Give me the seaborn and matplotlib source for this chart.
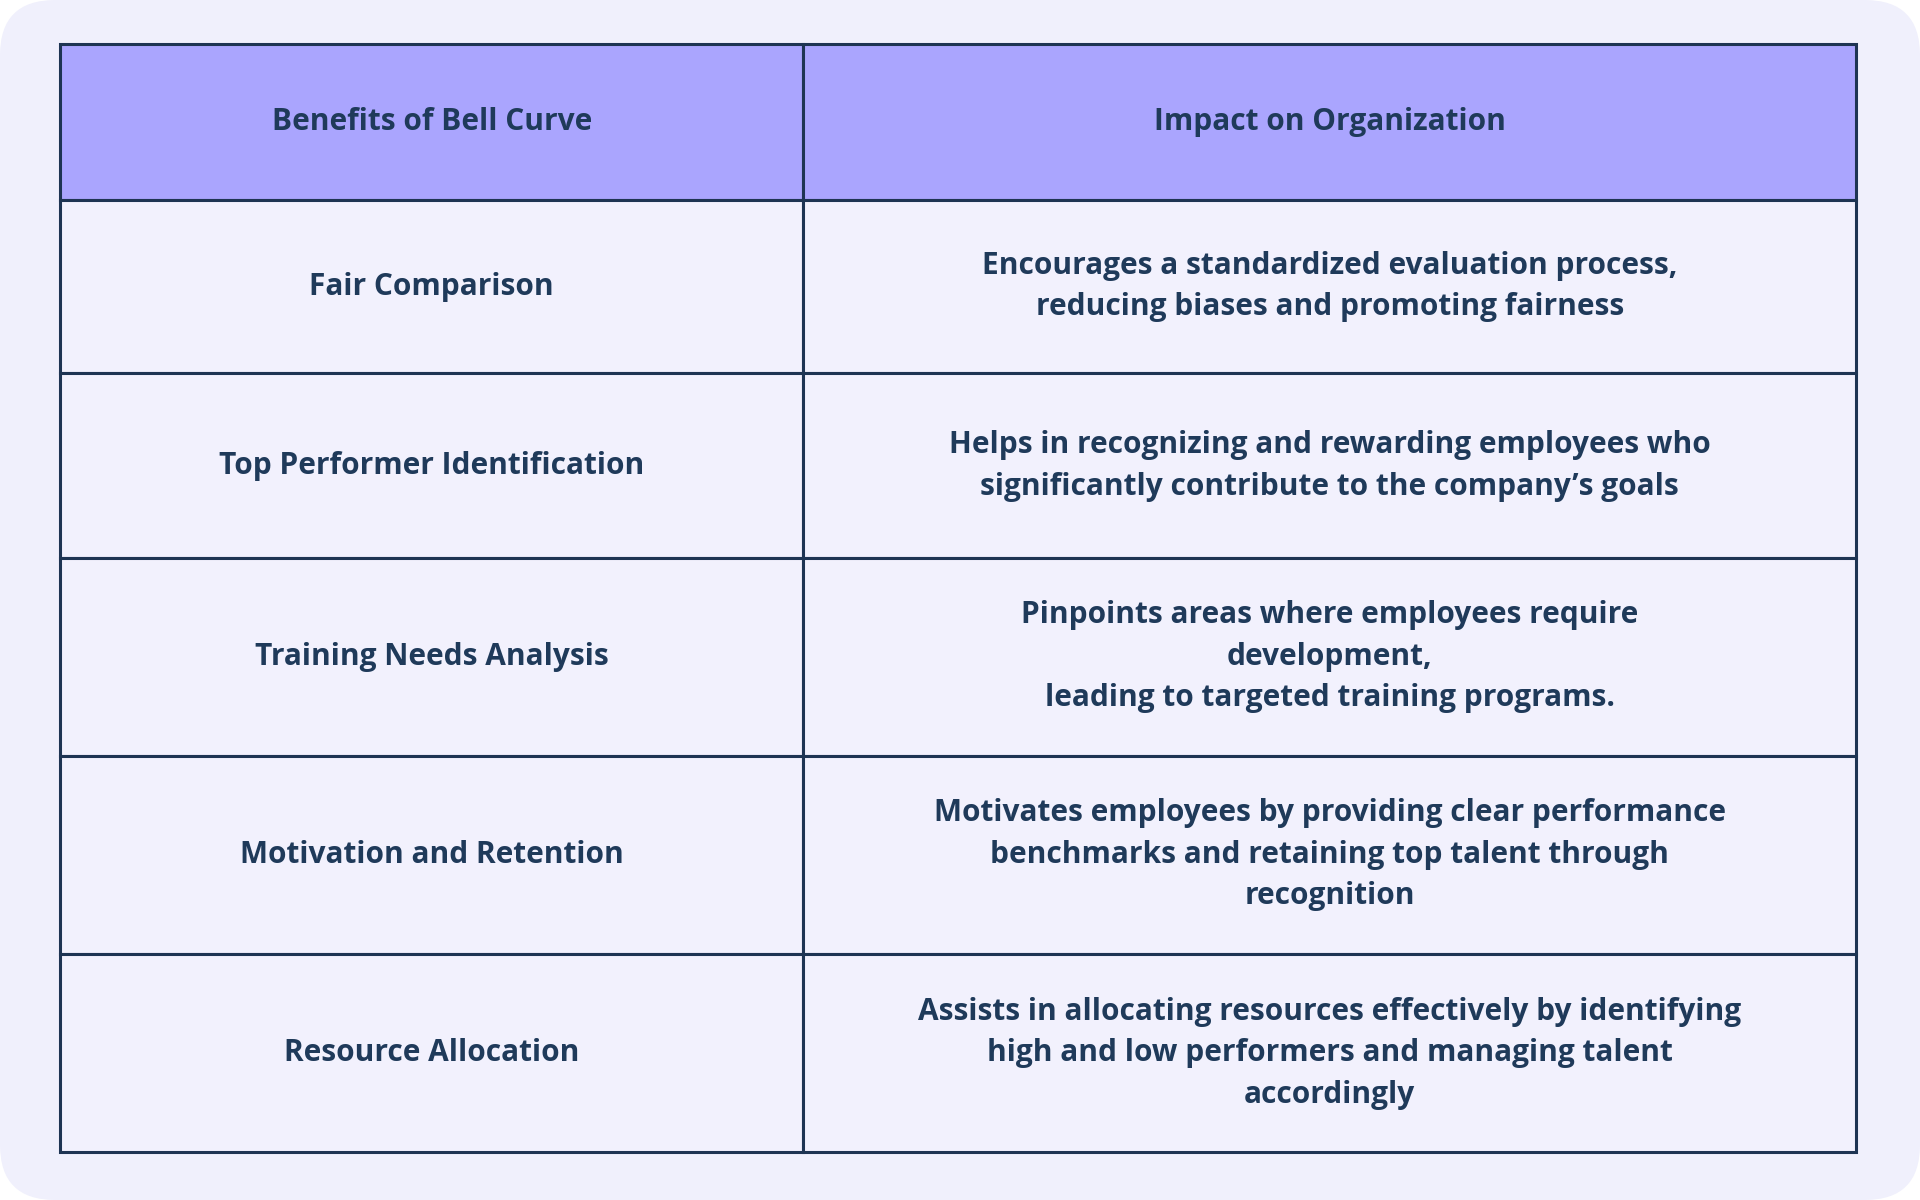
import matplotlib
matplotlib.use("Agg")
import matplotlib.pyplot as plt
import seaborn as sns
from matplotlib.patches import Rectangle, FancyBboxPatch

sns.set_theme(style="white")
plt.rcParams['font.family'] = ['Open Sans', 'DejaVu Sans']

headers = ["Benefits of Bell Curve", "Impact on Organization"]
benefits = ["Fair Comparison", "Top Performer Identification", "Training Needs Analysis",
            "Motivation and Retention", "Resource Allocation"]
impacts = [
    "Encourages a standardized evaluation process,\nreducing biases and promoting fairness",
    "Helps in recognizing and rewarding employees who\nsignificantly contribute to the company\u2019s goals",
    "Pinpoints areas where employees require\ndevelopment,\nleading to targeted training programs.",
    "Motivates employees by providing clear performance\nbenchmarks and retaining top talent through\nrecognition",
    "Assists in allocating resources effectively by identifying\nhigh and low performers and managing talent\naccordingly",
]

# layout (reference pixel units, 1568x980)
row_edges = [36, 163, 305, 456, 617, 779, 941]
col_edges = [49, 656, 1516]
line_c = "#1e3453"
text_c = "#1f3a5a"

fig = plt.figure(figsize=(19.2, 12), dpi=100)
fig.patch.set_facecolor("white")
ax = fig.add_axes([0, 0, 1, 1])
ax.set_xlim(0, 1568)
ax.set_ylim(980, 0)
ax.axis("off")

ax.add_patch(FancyBboxPatch((0, 0), 1568, 980, boxstyle="round,pad=0,rounding_size=45",
                            fc="#f0f0fc", ec="none"))

rows = [headers] + [[b, i] for b, i in zip(benefits, impacts)]
for r, row in enumerate(rows):
    y0, y1 = row_edges[r], row_edges[r + 1]
    for c, txt in enumerate(row):
        x0, x1 = col_edges[c], col_edges[c + 1]
        fc = "#aaa5fe" if r == 0 else "#f2f1fd"
        ax.add_patch(Rectangle((x0, y0), x1 - x0, y1 - y0, fc=fc, ec=line_c, lw=2.2))
        ax.text((x0 + x1) / 2, (y0 + y1) / 2, txt, ha="center", va="center",
                fontsize=21.5, fontweight="bold", color=text_c, linespacing=1.5,
                multialignment="center")

fig.savefig("out.png", dpi=100)
